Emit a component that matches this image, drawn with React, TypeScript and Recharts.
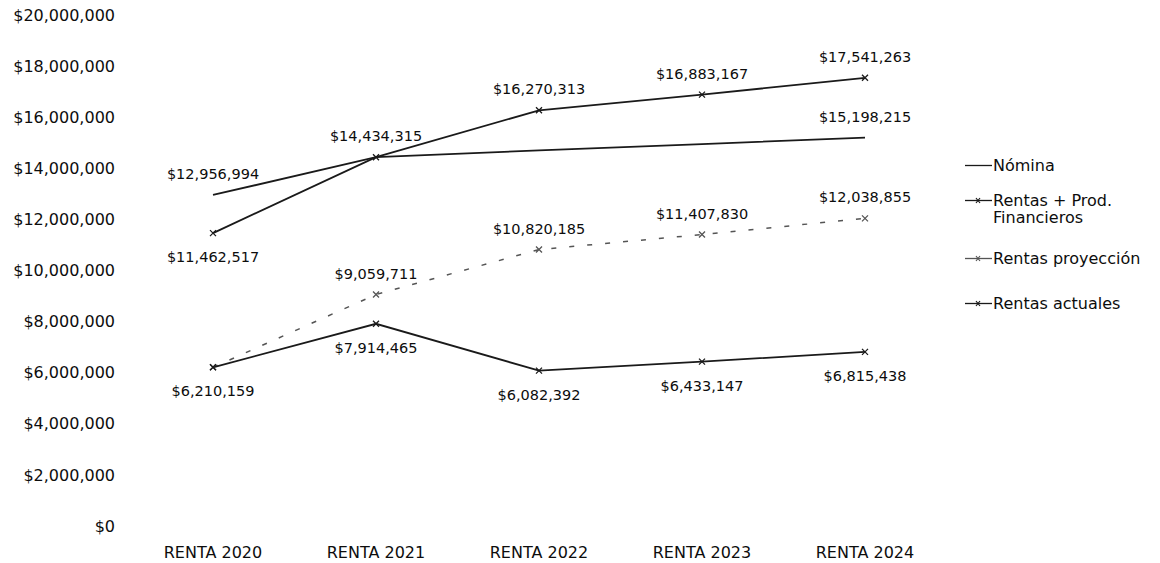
import React from 'react'
import { LineChart, Line, XAxis, YAxis } from 'recharts'

const CATEGORIES = ['RENTA 2020', 'RENTA 2021', 'RENTA 2022', 'RENTA 2023', 'RENTA 2024']

const NOMINA = [12956994, 14434315, 14700000, 14950000, 15198215]
const RENTAS_PROD = [11462517, 14434315, 16270313, 16883167, 17541263]
const RENTAS_PROY = [6210159, 9059711, 10820185, 11407830, 12038855]
const RENTAS_ACT = [6210159, 7914465, 6082392, 6433147, 6815438]

// where each point's value label sits (null = no label)
const NOMINA_LABELS = ['top', 'top', null, null, 'top']
const RENTAS_PROD_LABELS = ['bottom', null, 'top', 'top', 'top']
const RENTAS_PROY_LABELS = [null, 'top', 'top', 'top', 'top']
const RENTAS_ACT_LABELS = ['bottom', 'bottom', 'bottom', 'bottom', 'bottom']

const Y_TICKS = [0, 2000000, 4000000, 6000000, 8000000, 10000000, 12000000, 14000000, 16000000, 18000000, 20000000]

const data = CATEGORIES.map((name, i) => ({
  name,
  nomina: NOMINA[i],
  rentasProd: RENTAS_PROD[i],
  rentasProy: RENTAS_PROY[i],
  rentasAct: RENTAS_ACT[i],
}))

const money = (v: number) => `$${Math.round(v).toLocaleString('en-US')}`

const TEXT = '#0d0d0d'

const makeDot = (labels: (string | null)[], marker: boolean, color: string) => (props: any) => {
  const { cx, cy, index, value } = props
  const pos = labels[index]
  const v = Array.isArray(value) ? value[1] : value
  return (
    <g key={`dot-${index}`}>
      {marker && (
        <path
          d={`M${cx - 3},${cy - 3}L${cx + 3},${cy + 3}M${cx + 3},${cy - 3}L${cx - 3},${cy + 3}`}
          stroke={color}
          strokeWidth={1.3}
          fill="none"
        />
      )}
      {pos && (
        <text
          x={cx}
          y={pos === 'top' ? cy - 16 : cy + 29}
          textAnchor="middle"
          fontSize={14.5}
          fill={TEXT}
        >
          {money(v)}
        </text>
      )}
    </g>
  )
}

const series = [
  { key: 'nomina', name: 'Nómina', color: '#1a1a1a', dash: undefined, marker: false, labels: NOMINA_LABELS },
  { key: 'rentasProd', name: 'Rentas + Prod. Financieros', color: '#1a1a1a', dash: undefined, marker: true, labels: RENTAS_PROD_LABELS },
  { key: 'rentasProy', name: 'Rentas proyección', color: '#555555', dash: '5 13', marker: true, labels: RENTAS_PROY_LABELS },
  { key: 'rentasAct', name: 'Rentas actuales', color: '#1a1a1a', dash: undefined, marker: true, labels: RENTAS_ACT_LABELS },
]

const legendTops = [157, 192, 250, 295]

function ChartLegend() {
  return (
    <div style={{ position: 'absolute', left: 965, top: 0, width: 195 }}>
      {series.map((s, i) => (
        <div
          key={s.key}
          style={{ position: 'absolute', top: legendTops[i], left: 0, display: 'flex', alignItems: 'flex-start', width: 195 }}
        >
          <svg width={27} height={17} style={{ flex: 'none' }}>
            <line x1={0} y1={8.5} x2={27} y2={8.5} stroke={s.color} strokeWidth={1.3} />
            {s.marker && (
              <path d="M11,6L15,11M15,6L11,11" stroke={s.color} strokeWidth={1.2} fill="none" />
            )}
          </svg>
          <span style={{ fontSize: 16, lineHeight: '17px', color: TEXT, marginLeft: 1, width: 160 }}>
            {s.key === 'rentasProd' ? (
              <>Rentas + Prod.<br />Financieros</>
            ) : (
              s.name
            )}
          </span>
        </div>
      ))}
    </div>
  )
}

export default function App() {
  return (
    <div
      style={{
        position: 'absolute',
        left: 0,
        top: 0,
        width: 1160,
        height: 563,
        fontFamily: '"DejaVu Sans", sans-serif',
        background: '#fff',
      }}
    >
      <LineChart width={1160} height={563} data={data} margin={{ top: 15, right: 200, bottom: 0, left: 0 }}>
        <XAxis
          dataKey="name"
          padding={{ left: 90, right: 95 }}
          axisLine={false}
          tickLine={false}
          tickSize={0}
          tickMargin={21}
          height={37}
          interval={0}
          tick={{ fontSize: 16, fill: TEXT }}
        />
        <YAxis
          domain={[0, 20000000]}
          ticks={Y_TICKS}
          interval={0}
          width={123}
          axisLine={false}
          tickLine={false}
          tickSize={0}
          tickMargin={8}
          tickFormatter={money}
          tick={{ fontSize: 16, fill: TEXT }}
        />
        {series.map((s) => (
          <Line
            key={s.key}
            type="linear"
            dataKey={s.key}
            name={s.name}
            stroke={s.color}
            strokeWidth={s.dash ? 1.5 : 1.8}
            strokeDasharray={s.dash}
            dot={makeDot(s.labels, s.marker, s.color)}
            activeDot={false}
            isAnimationActive={false}
          />
        ))}
      </LineChart>
      <ChartLegend />
    </div>
  )
}
